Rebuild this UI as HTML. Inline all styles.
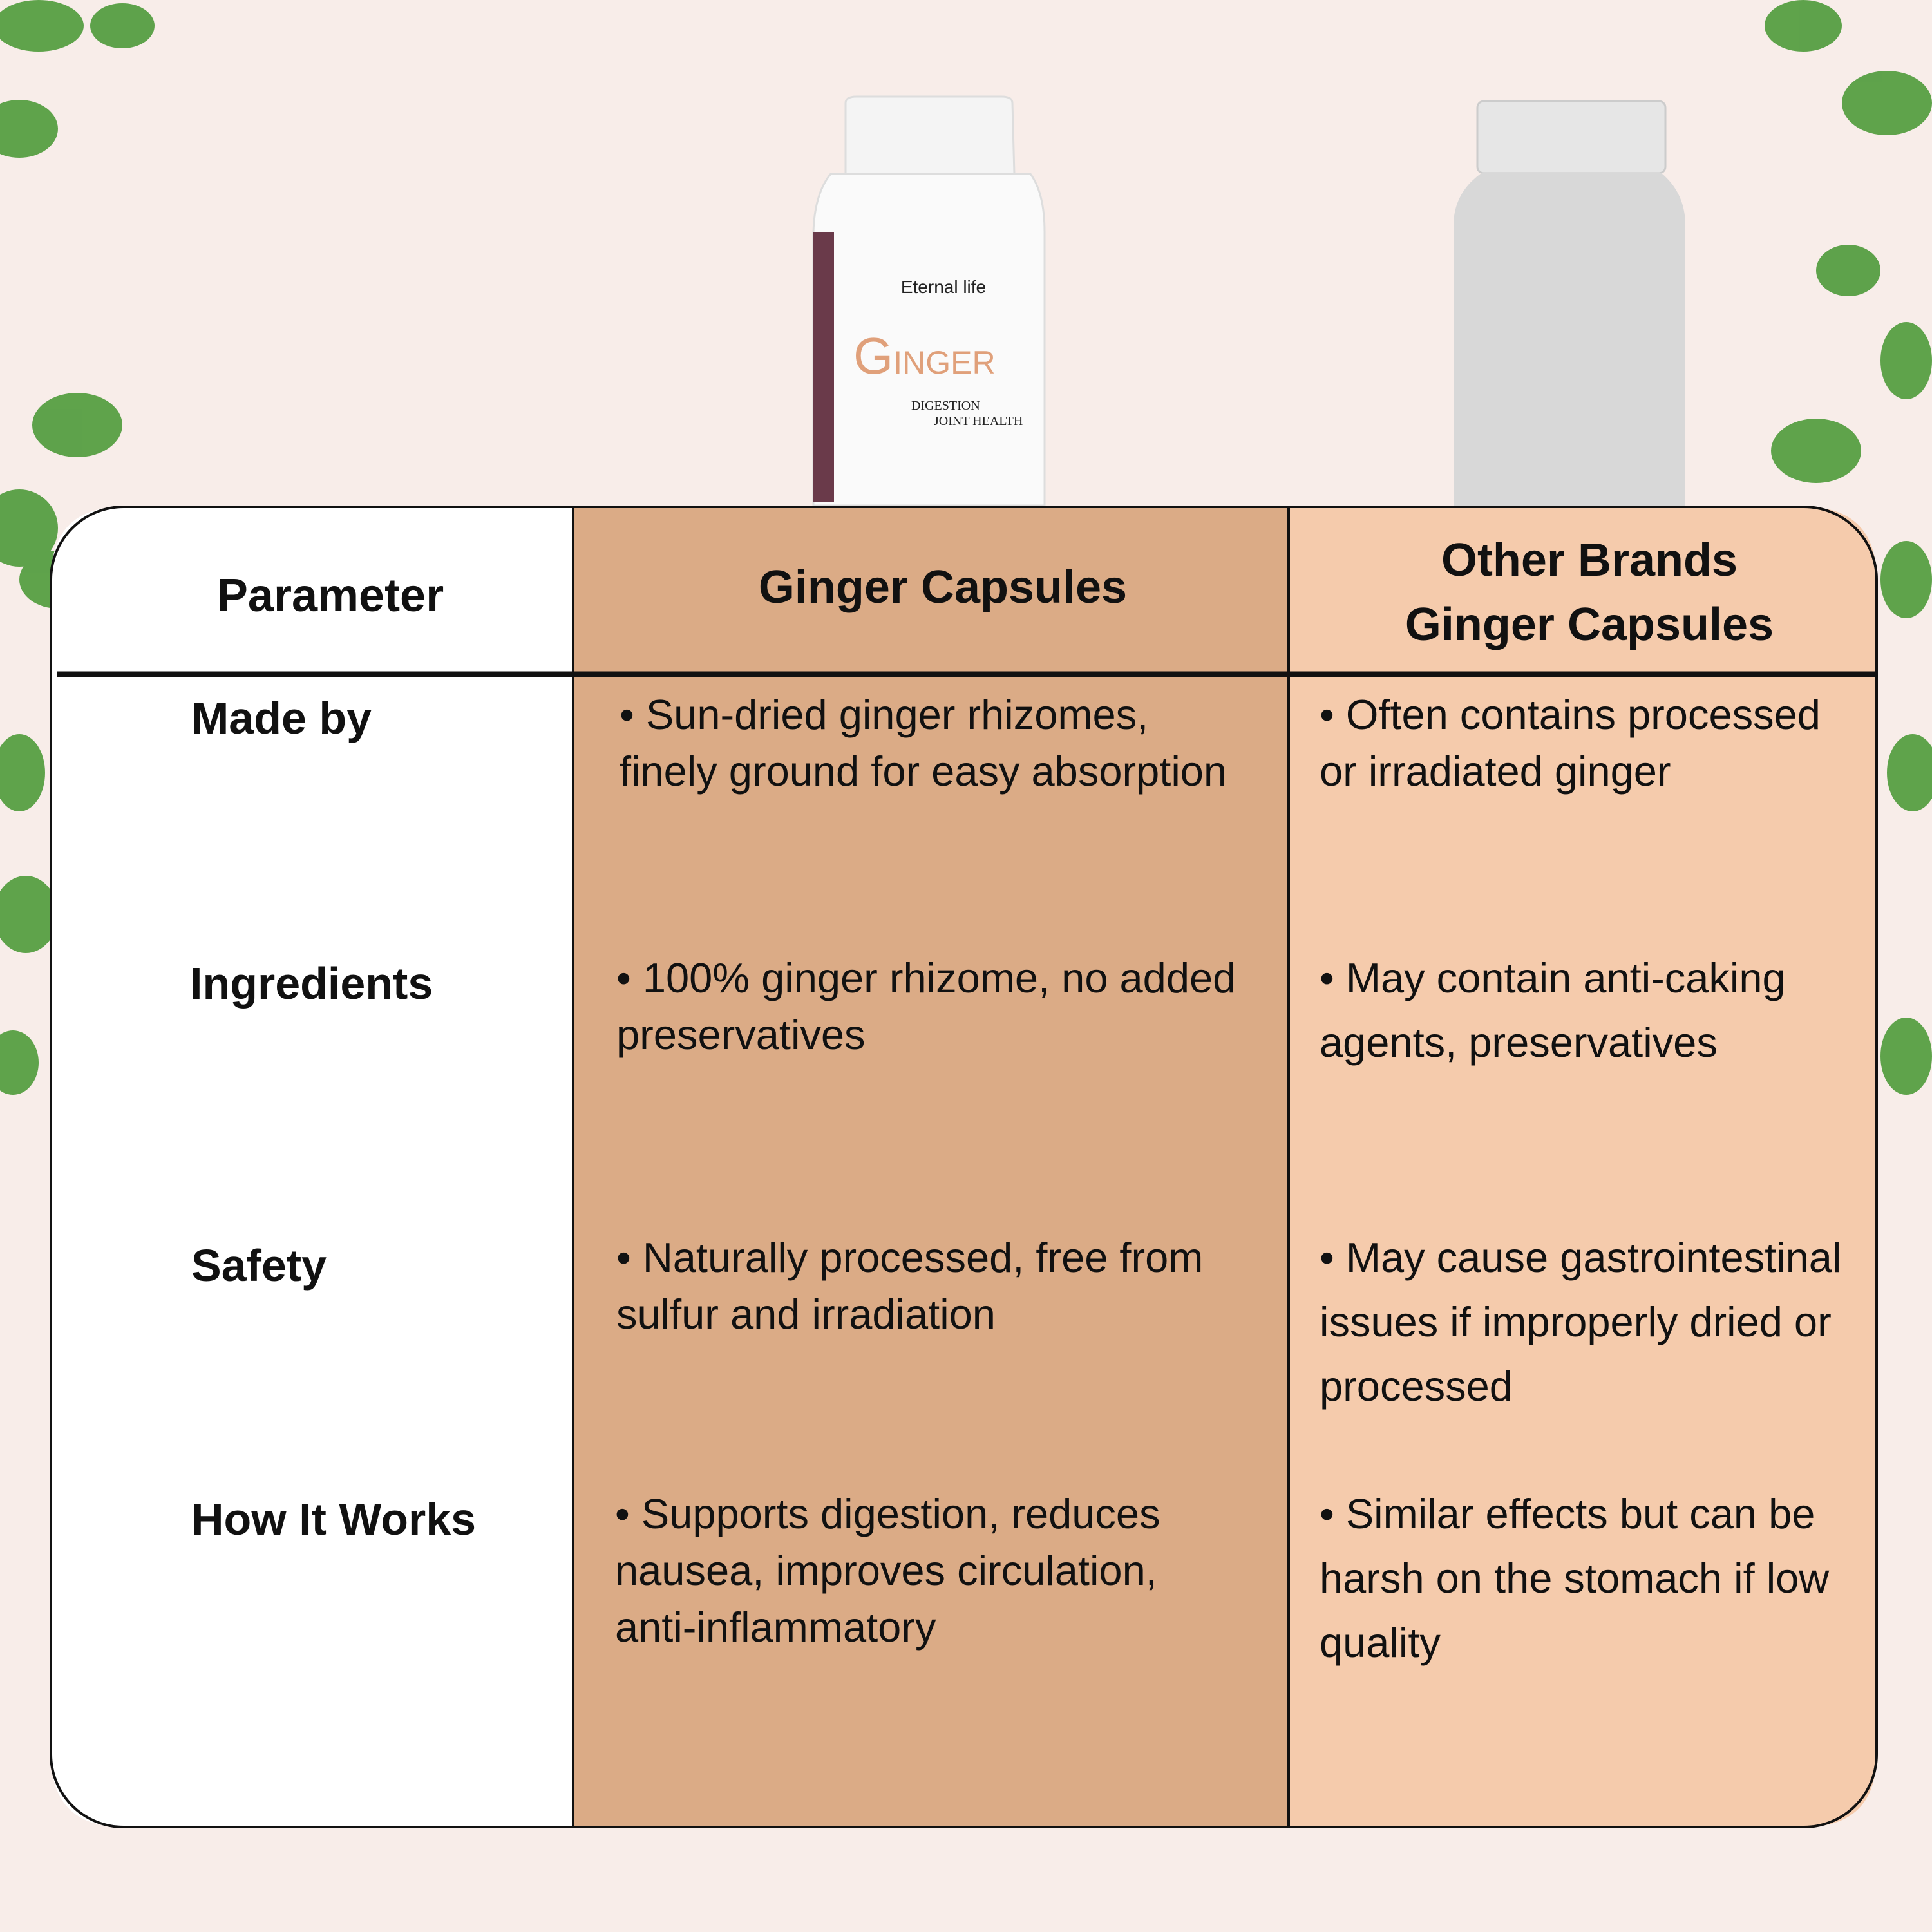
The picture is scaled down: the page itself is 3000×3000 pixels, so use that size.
<!DOCTYPE html>
<html><head><meta charset="utf-8"><style>
body{margin:0;width:3000px;height:3000px;background:#f8ede9;position:relative;overflow:hidden;font-family:"Liberation Sans",sans-serif;color:#111}
.t{position:absolute;white-space:nowrap}
.h{font-size:72px;font-weight:bold;line-height:100px;text-align:center;width:1000px}
.l{font-size:70px;font-weight:bold;line-height:90px}
.b{font-size:65px;line-height:88px}
.c{font-size:65px;line-height:100px}
</style></head><body>
<svg width="3000" height="3000" style="position:absolute;left:0;top:0">
<g fill="#4e9a3a" opacity="0.9">
<ellipse cx="60" cy="40" rx="70" ry="40"/><ellipse cx="190" cy="40" rx="50" ry="35"/><ellipse cx="30" cy="200" rx="60" ry="45"/>
<ellipse cx="120" cy="660" rx="70" ry="50"/><ellipse cx="30" cy="820" rx="60" ry="60"/><ellipse cx="90" cy="900" rx="60" ry="45"/>
<ellipse cx="30" cy="1200" rx="40" ry="60"/><ellipse cx="40" cy="1420" rx="50" ry="60"/><ellipse cx="20" cy="1650" rx="40" ry="50"/>
<ellipse cx="2800" cy="40" rx="60" ry="40"/><ellipse cx="2930" cy="160" rx="70" ry="50"/><ellipse cx="2870" cy="420" rx="50" ry="40"/>
<ellipse cx="2960" cy="560" rx="40" ry="60"/><ellipse cx="2820" cy="700" rx="70" ry="50"/><ellipse cx="2960" cy="900" rx="40" ry="60"/>
<ellipse cx="2970" cy="1200" rx="40" ry="60"/><ellipse cx="2960" cy="1640" rx="40" ry="60"/>
</g>
<path d="M1313 160 Q1313 150 1330 150 L1555 150 Q1572 150 1572 160 L1575 270 L1313 270 Z" fill="#f4f4f4" stroke="#ddd" stroke-width="3"/>
<path d="M1290 270 L1600 270 Q1622 300 1622 360 L1622 785 L1263 785 L1263 360 Q1265 300 1290 270 Z" fill="#fafafa" stroke="#ddd" stroke-width="3"/>
<rect x="1263" y="360" width="32" height="420" fill="#6a3a4a"/>
<text x="1465" y="455" font-size="28" text-anchor="middle" fill="#222" font-family="Liberation Sans">Eternal life</text>
<text x="1325" y="580" font-size="80" fill="#e0a07a" font-family="Liberation Sans">G<tspan font-size="50">INGER</tspan></text>
<text x="1415" y="636" font-size="20" fill="#222" font-family="Liberation Serif">DIGESTION</text>
<text x="1450" y="660" font-size="20" fill="#222" font-family="Liberation Serif">JOINT HEALTH</text>
<rect x="2294" y="157" width="292" height="112" rx="10" fill="#e6e6e6" stroke="#ccc" stroke-width="3"/>
<path d="M2300 269 L2580 269 Q2617 300 2617 350 L2617 785 L2257 785 L2257 350 Q2257 300 2300 269 Z" fill="#d8d8d8"/>
<path d="M890 787 L890 2837 L192 2837 Q79 2837 79 2724 L79 900 Q79 787 192 787 Z" fill="#fff"/>
<rect x="890" y="787" width="1111" height="2050" fill="#dbab86"/>
<path d="M2001 787 L2801 787 Q2914 787 2914 900 L2914 2724 Q2914 2837 2801 2837 L2001 2837 Z" fill="#f5cbac"/>
<rect x="79" y="787" width="2835" height="2050" rx="113" fill="none" stroke="#111" stroke-width="4"/>
<line x1="890" y1="787" x2="890" y2="2837" stroke="#111" stroke-width="4"/>
<line x1="2001" y1="787" x2="2001" y2="2837" stroke="#111" stroke-width="4"/>
<line x1="88" y1="1047" x2="2914" y2="1047" stroke="#111" stroke-width="9"/>
</svg>
<div class="t h" style="left:13px;top:875px">Parameter</div>
<div class="t h" style="left:964px;top:862px">Ginger Capsules</div>
<div class="t h" style="left:1968px;top:820px">Other Brands<br>Ginger Capsules</div>
<div class="t l" style="left:297px;top:1070px">Made by</div>
<div class="t l" style="left:295px;top:1482px">Ingredients</div>
<div class="t l" style="left:297px;top:1920px">Safety</div>
<div class="t l" style="left:297px;top:2314px">How It Works</div>
<div class="t b" style="left:962px;top:1066px">• Sun-dried ginger rhizomes,<br>finely ground for easy absorption</div>
<div class="t b" style="left:957px;top:1475px">• 100% ginger rhizome, no added<br>preservatives</div>
<div class="t b" style="left:957px;top:1909px">• Naturally processed, free from<br>sulfur and irradiation</div>
<div class="t b" style="left:955px;top:2307px">• Supports digestion, reduces<br>nausea, improves circulation,<br>anti-inflammatory</div>
<div class="t b" style="left:2049px;top:1066px">• Often contains processed<br>or irradiated ginger</div>
<div class="t c" style="left:2049px;top:1469px">• May contain anti-caking<br>agents, preservatives</div>
<div class="t c" style="left:2049px;top:1903px">• May cause gastrointestinal<br>issues if improperly dried or<br>processed</div>
<div class="t c" style="left:2049px;top:2301px">• Similar effects but can be<br>harsh on the stomach if low<br>quality</div>
</body></html>
